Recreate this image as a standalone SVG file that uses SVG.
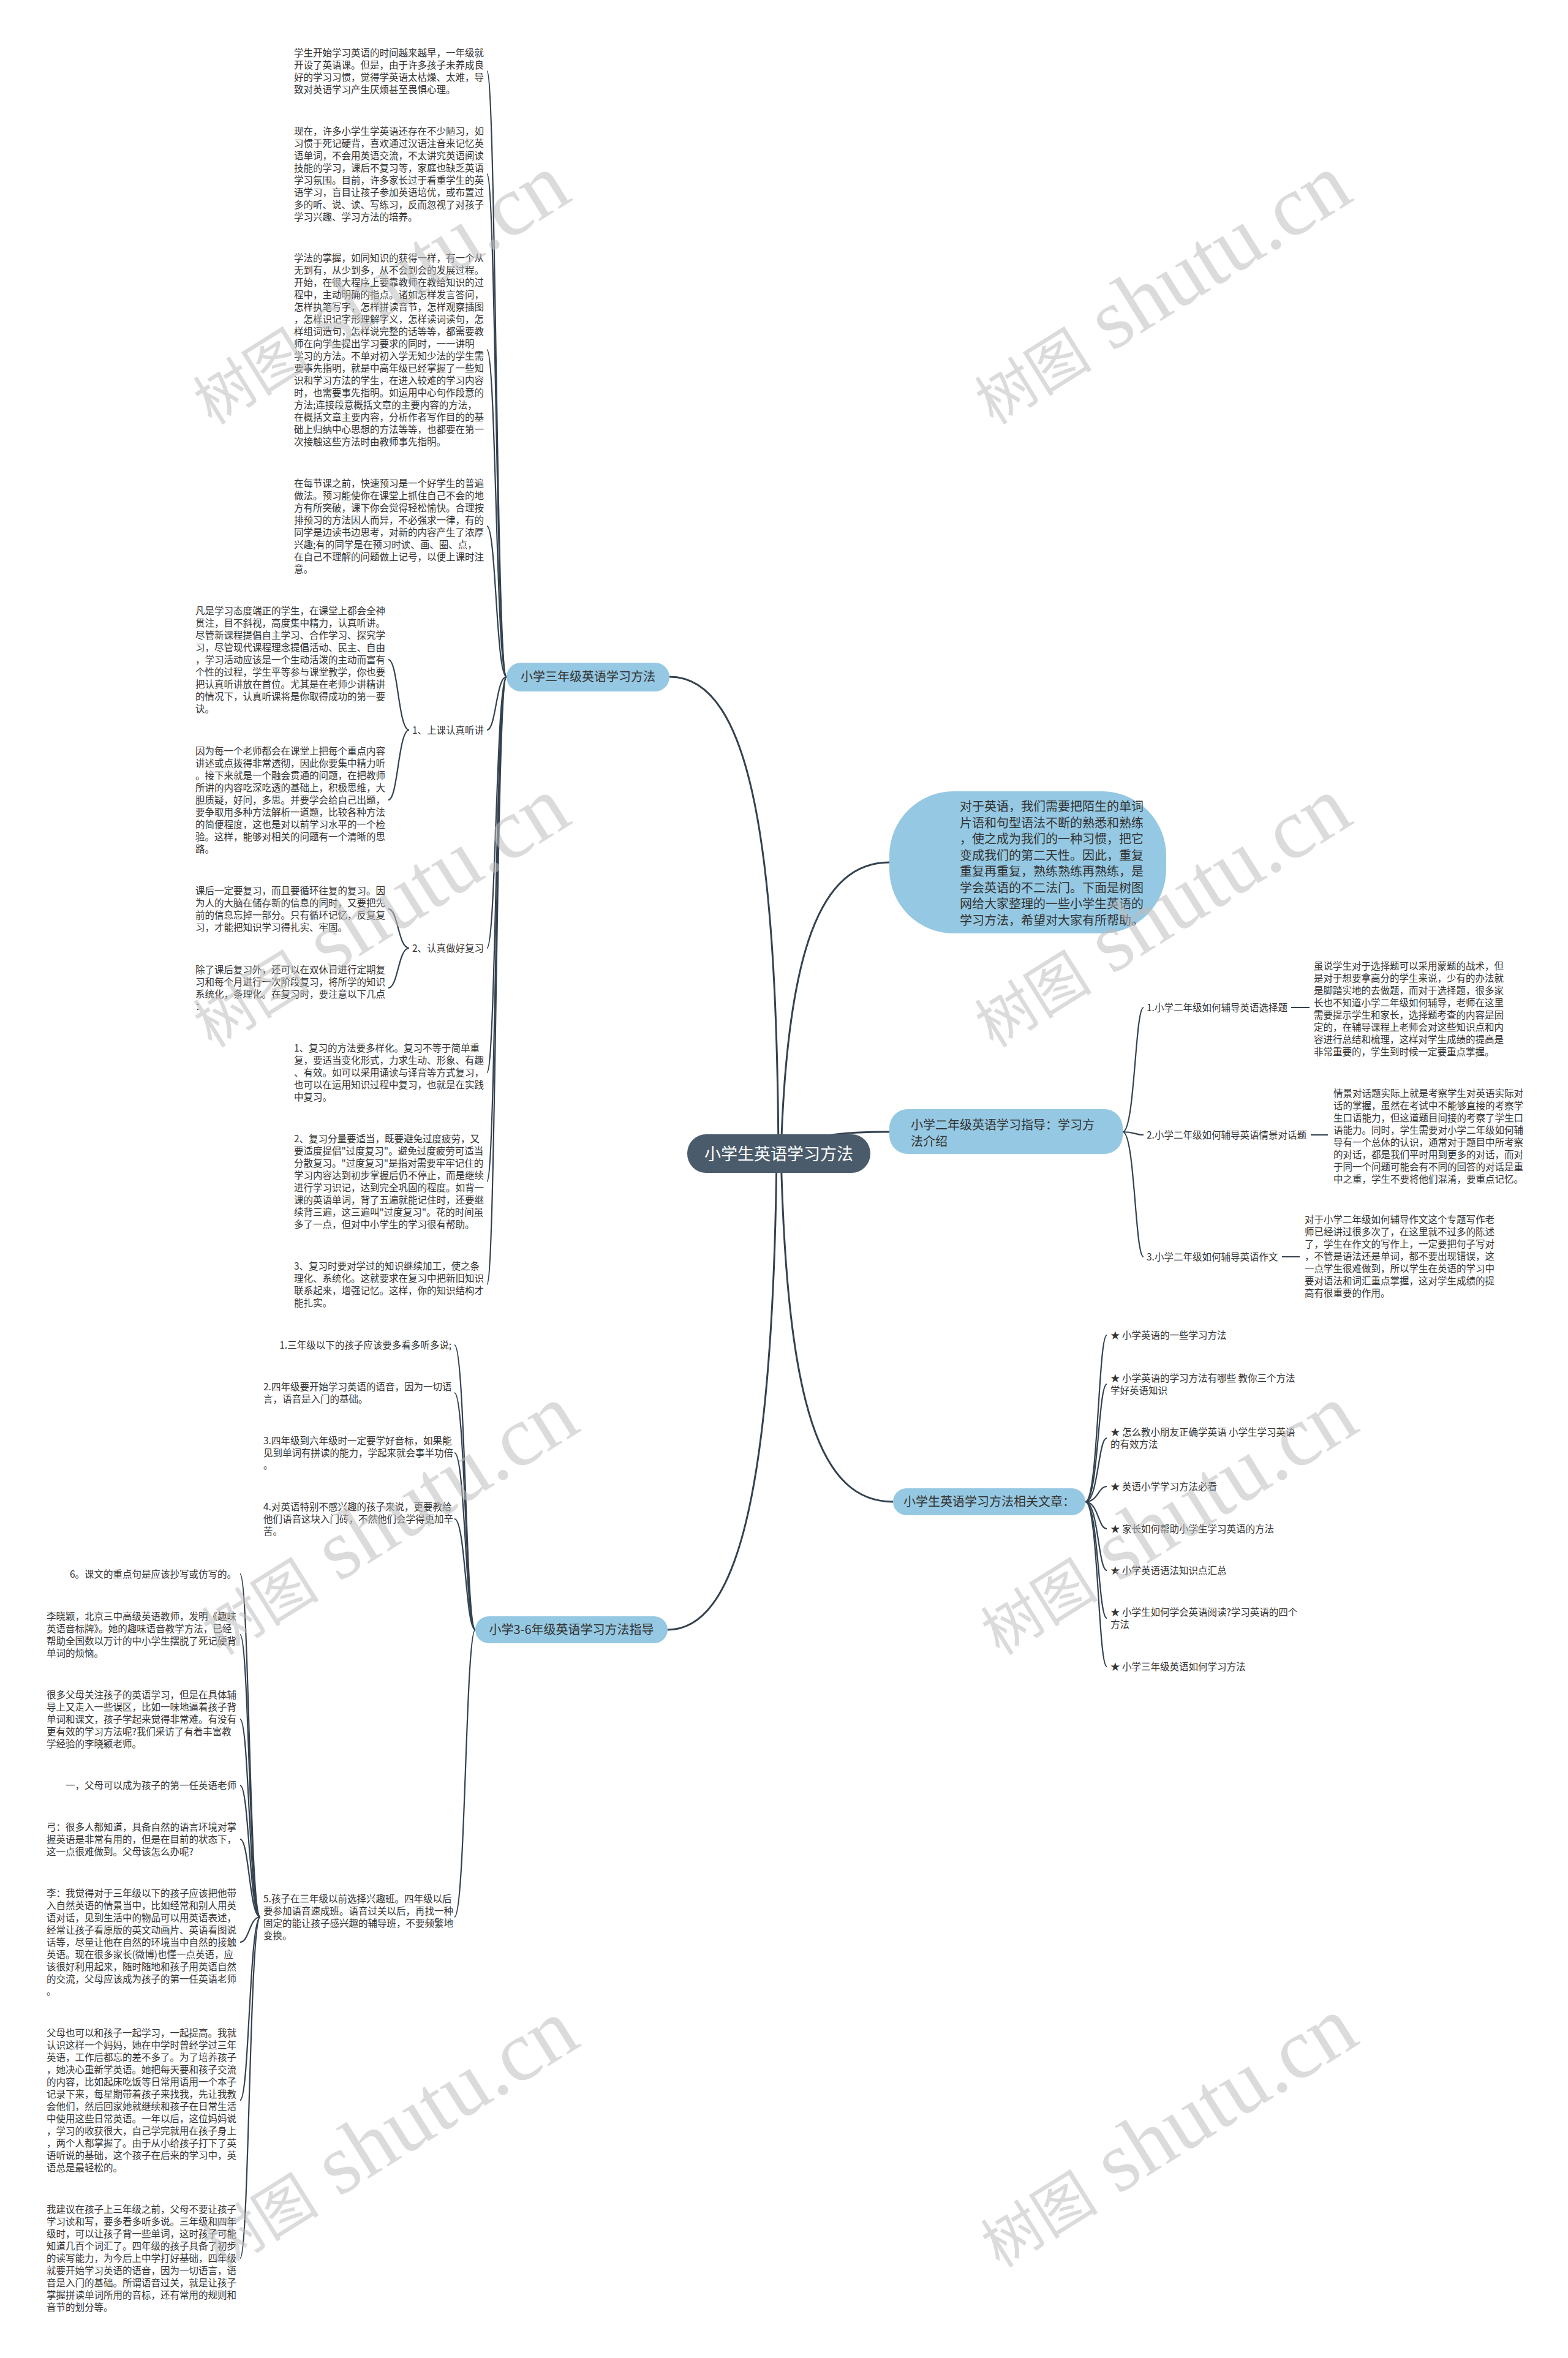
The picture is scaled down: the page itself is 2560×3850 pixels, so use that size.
<svg xmlns="http://www.w3.org/2000/svg" width="2560" height="3850" viewBox="0 0 2560 3850">
<style>
.t{font-family:"Noto Sans CJK SC","Noto Sans",sans-serif;font-size:15.5px;fill:#333}
.n{font-family:"Noto Sans CJK SC","Noto Sans",sans-serif;font-size:20px;fill:#333}
.r{font-family:"Noto Sans CJK SC","Noto Sans",sans-serif;font-size:27px;fill:#fff}
.c{fill:none;stroke:#34424f;stroke-width:2.2}
.m{fill:none;stroke:#34424f;stroke-width:3}
.bub{fill:#95c8e2}
.wm{font-family:"Liberation Serif","Noto Sans CJK SC",serif;fill:#bdbdbd;fill-opacity:.55}
</style>
<rect width="2560" height="3850" fill="#fff"/>
<g id="connectors">
<path class="m" d="M1271,1884 C1268,1400 1230,1105 1093,1105"/>
<path class="m" d="M1275,1884 C1285,1550 1340,1408 1452,1408"/>
<path class="m" d="M1271,1884 C1320,1850 1390,1848 1452,1848"/>
<path class="m" d="M1275,1884 C1285,2300 1340,2452 1458,2452"/>
<path class="m" d="M1268,1884 C1262,2450 1200,2661 1090,2661"/>
<path class="c" d="M827,1105 C810,1105 810,116 795,116"/>
<path class="c" d="M827,1105 C810,1105 810,284 795,284"/>
<path class="c" d="M827,1105 C810,1105 810,571 795,571"/>
<path class="c" d="M827,1105 C810,1105 810,859 795,859"/>
<path class="c" d="M827,1105 C810,1105 810,1192 795,1192"/>
<path class="c" d="M827,1105 C810,1105 810,1548 795,1548"/>
<path class="c" d="M827,1105 C810,1105 810,1751 795,1751"/>
<path class="c" d="M827,1105 C810,1105 810,1929 795,1929"/>
<path class="c" d="M827,1105 C810,1105 810,2097 795,2097"/>
<path class="c" d="M668,1192 C650,1192 650,1077 634,1077"/>
<path class="c" d="M668,1192 C650,1192 650,1306 634,1306"/>
<path class="c" d="M668,1548 C650,1548 650,1484 634,1484"/>
<path class="c" d="M668,1548 C650,1548 650,1613 634,1613"/>
<path class="c" d="M776,2661 C760,2661 760,2196 742,2196"/>
<path class="c" d="M776,2661 C760,2661 760,2274 742,2274"/>
<path class="c" d="M776,2661 C760,2661 760,2372 742,2372"/>
<path class="c" d="M776,2661 C760,2661 760,2480 742,2480"/>
<path class="c" d="M776,2661 C760,2661 760,3130 742,3130"/>
<path class="c" d="M425,3130 C407,3130 407,2570 392,2570"/>
<path class="c" d="M425,3130 C407,3130 407,2669 392,2669"/>
<path class="c" d="M425,3130 C407,3130 407,2807 392,2807"/>
<path class="c" d="M425,3130 C407,3130 407,2915 392,2915"/>
<path class="c" d="M425,3130 C407,3130 407,3003 392,3003"/>
<path class="c" d="M425,3130 C407,3130 407,3171 392,3171"/>
<path class="c" d="M425,3130 C407,3130 407,3429 392,3429"/>
<path class="c" d="M425,3130 C407,3130 407,3687 392,3687"/>
<path class="c" d="M1833,1848 C1853,1848 1853,1645 1867,1645"/>
<path class="c" d="M1833,1848 C1853,1848 1853,1853 1867,1853"/>
<path class="c" d="M1833,1848 C1853,1848 1853,2052 1867,2052"/>
<path class="c" d="M2108,1645 L2138,1645 M2140,1853 L2168,1853 M2093,2052 L2122,2052"/>
<path class="c" d="M1772,2452 C1793,2452 1793,2180 1807,2180"/>
<path class="c" d="M1772,2452 C1793,2452 1793,2260 1807,2260"/>
<path class="c" d="M1772,2452 C1793,2452 1793,2348 1807,2348"/>
<path class="c" d="M1772,2452 C1793,2452 1793,2427 1807,2427"/>
<path class="c" d="M1772,2452 C1793,2452 1793,2496 1807,2496"/>
<path class="c" d="M1772,2452 C1793,2452 1793,2564 1807,2564"/>
<path class="c" d="M1772,2452 C1793,2452 1793,2642 1807,2642"/>
<path class="c" d="M1772,2452 C1793,2452 1793,2721 1807,2721"/>
</g>
<g id="root"><rect x="1122" y="1852" width="299" height="63" rx="31" fill="#4a5b6b"/><text class="r" x="1271.5" y="1894" text-anchor="middle">小学生英语学习方法</text></g>
<g id="intro"><rect class="bub" x="1452" y="1292" width="452" height="232" rx="105"/>
<text class="n" x="1567" y="1324"><tspan x="1567">对于英语，我们需要把陌生的单词</tspan><tspan x="1567" dy="26.5">片语和句型语法不断的熟悉和熟练</tspan><tspan x="1567" dy="26.5">，使之成为我们的一种习惯，把它</tspan><tspan x="1567" dy="26.5">变成我们的第二天性。因此，重复</tspan><tspan x="1567" dy="26.5">重复再重复，熟练熟练再熟练，是</tspan><tspan x="1567" dy="26.5">学会英语的不二法门。下面是树图</tspan><tspan x="1567" dy="26.5">网给大家整理的一些小学生英语的</tspan><tspan x="1567" dy="26.5">学习方法，希望对大家有所帮助。</tspan></text></g>
<g id="g3"><rect class="bub" x="827" y="1082" width="266" height="47" rx="23.5"/><text class="n" x="960" y="1112" text-anchor="middle">小学三年级英语学习方法</text></g>
<g id="g2"><rect class="bub" x="1452" y="1811" width="381" height="73" rx="30"/><text class="n" x="1487" y="1844"><tspan x="1487">小学二年级英语学习指导：学习方</tspan><tspan x="1487" dy="27">法介绍</tspan></text></g>
<g id="g36"><rect class="bub" x="776" y="2639" width="314" height="44" rx="22"/><text class="n" x="933" y="2668" text-anchor="middle">小学3-6年级英语学习方法指导</text></g>
<g id="grel"><rect class="bub" x="1458" y="2430" width="314" height="44" rx="22"/><text class="n" x="1615" y="2459" text-anchor="middle">小学生英语学习方法相关文章：</text></g>
<g id="a1"><text class="t" x="480" y="92"><tspan x="480">学生开始学习英语的时间越来越早，一年级就</tspan><tspan x="480" dy="20">开设了英语课。但是，由于许多孩子未养成良</tspan><tspan x="480" dy="20">好的学习习惯，觉得学英语太枯燥、太难，导</tspan><tspan x="480" dy="20">致对英语学习产生厌烦甚至畏惧心理。</tspan></text></g>
<g id="a2"><text class="t" x="480" y="220"><tspan x="480">现在，许多小学生学英语还存在不少陋习，如</tspan><tspan x="480" dy="20">习惯于死记硬背，喜欢通过汉语注音来记忆英</tspan><tspan x="480" dy="20">语单词，不会用英语交流，不太讲究英语阅读</tspan><tspan x="480" dy="20">技能的学习，课后不复习等，家庭也缺乏英语</tspan><tspan x="480" dy="20">学习氛围。目前，许多家长过于看重学生的英</tspan><tspan x="480" dy="20">语学习，盲目让孩子参加英语培优，或布置过</tspan><tspan x="480" dy="20">多的听、说、读、写练习，反而忽视了对孩子</tspan><tspan x="480" dy="20">学习兴趣、学习方法的培养。</tspan></text></g>
<g id="a3"><text class="t" x="480" y="427"><tspan x="480">学法的掌握，如同知识的获得一样，有一个从</tspan><tspan x="480" dy="20">无到有，从少到多，从不会到会的发展过程。</tspan><tspan x="480" dy="20">开始，在很大程序上要靠教师在教给知识的过</tspan><tspan x="480" dy="20">程中，主动明确的指点。诸如怎样发言答问，</tspan><tspan x="480" dy="20">怎样执笔写字，怎样拼读音节，怎样观察插图</tspan><tspan x="480" dy="20">，怎样识记字形理解字义，怎样读词读句，怎</tspan><tspan x="480" dy="20">样组词造句，怎样说完整的话等等，都需要教</tspan><tspan x="480" dy="20">师在向学生提出学习要求的同时，一一讲明</tspan><tspan x="480" dy="20">学习的方法。不单对初入学无知少法的学生需</tspan><tspan x="480" dy="20">要事先指明，就是中高年级已经掌握了一些知</tspan><tspan x="480" dy="20">识和学习方法的学生，在进入较难的学习内容</tspan><tspan x="480" dy="20">时，也需要事先指明。如运用中心句作段意的</tspan><tspan x="480" dy="20">方法;连接段意概括文章的主要内容的方法，</tspan><tspan x="480" dy="20">在概括文章主要内容，分析作者写作目的的基</tspan><tspan x="480" dy="20">础上归纳中心思想的方法等等，也都要在第一</tspan><tspan x="480" dy="20">次接触这些方法时由教师事先指明。</tspan></text></g>
<g id="a4"><text class="t" x="480" y="795"><tspan x="480">在每节课之前，快速预习是一个好学生的普遍</tspan><tspan x="480" dy="20">做法。预习能使你在课堂上抓住自己不会的地</tspan><tspan x="480" dy="20">方有所突破，课下你会觉得轻松愉快。合理按</tspan><tspan x="480" dy="20">排预习的方法因人而异，不必强求一律，有的</tspan><tspan x="480" dy="20">同学是边读书边思考，对新的内容产生了浓厚</tspan><tspan x="480" dy="20">兴趣;有的同学是在预习时读、画、圈、点，</tspan><tspan x="480" dy="20">在自己不理解的问题做上记号，以便上课时注</tspan><tspan x="480" dy="20">意。</tspan></text></g>
<g id="l1"><text class="t" x="790" y="1198" text-anchor="end">1、上课认真听讲</text></g>
<g id="l1a"><text class="t" x="319" y="1003"><tspan x="319">凡是学习态度端正的学生，在课堂上都会全神</tspan><tspan x="319" dy="20">贯注，目不斜视，高度集中精力，认真听讲。</tspan><tspan x="319" dy="20">尽管新课程提倡自主学习、合作学习、探究学</tspan><tspan x="319" dy="20">习，尽管现代课程理念提倡活动、民主、自由</tspan><tspan x="319" dy="20">，学习活动应该是一个生动活泼的主动而富有</tspan><tspan x="319" dy="20">个性的过程，学生平等参与课堂教学，你也要</tspan><tspan x="319" dy="20">把认真听讲放在首位。尤其是在老师少讲精讲</tspan><tspan x="319" dy="20">的情况下，认真听课将是你取得成功的第一要</tspan><tspan x="319" dy="20">诀。</tspan></text></g>
<g id="l1b"><text class="t" x="319" y="1232"><tspan x="319">因为每一个老师都会在课堂上把每个重点内容</tspan><tspan x="319" dy="20">讲述或点拨得非常透彻，因此你要集中精力听</tspan><tspan x="319" dy="20">。接下来就是一个融会贯通的问题，在把教师</tspan><tspan x="319" dy="20">所讲的内容吃深吃透的基础上，积极思维，大</tspan><tspan x="319" dy="20">胆质疑，好问，多思。并要学会给自己出题，</tspan><tspan x="319" dy="20">要争取用多种方法解析一道题，比较各种方法</tspan><tspan x="319" dy="20">的简便程度，这也是对以前学习水平的一个检</tspan><tspan x="319" dy="20">验。这样，能够对相关的问题有一个清晰的思</tspan><tspan x="319" dy="20">路。</tspan></text></g>
<g id="l2"><text class="t" x="790" y="1554" text-anchor="end">2、认真做好复习</text></g>
<g id="l2a"><text class="t" x="319" y="1460"><tspan x="319">课后一定要复习，而且要循环往复的复习。因</tspan><tspan x="319" dy="20">为人的大脑在储存新的信息的同时，又要把先</tspan><tspan x="319" dy="20">前的信息忘掉一部分。只有循环记忆，反复复</tspan><tspan x="319" dy="20">习，才能把知识学习得扎实、牢固。</tspan></text></g>
<g id="l2b"><text class="t" x="319" y="1589"><tspan x="319">除了课后复习外，还可以在双休日进行定期复</tspan><tspan x="319" dy="20">习和每个月进行一次阶段复习，将所学的知识</tspan><tspan x="319" dy="20">系统化，条理化。在复习时，要注意以下几点</tspan><tspan x="319" dy="20">：</tspan></text></g>
<g id="a5"><text class="t" x="480" y="1717"><tspan x="480">1、复习的方法要多样化。复习不等于简单重</tspan><tspan x="480" dy="20">复，要适当变化形式，力求生动、形象、有趣</tspan><tspan x="480" dy="20">、有效。如可以采用诵读与译背等方式复习，</tspan><tspan x="480" dy="20">也可以在运用知识过程中复习，也就是在实践</tspan><tspan x="480" dy="20">中复习。</tspan></text></g>
<g id="a6"><text class="t" x="480" y="1865"><tspan x="480">2、复习分量要适当，既要避免过度疲劳，又</tspan><tspan x="480" dy="20">要适度提倡"过度复习"。避免过度疲劳可适当</tspan><tspan x="480" dy="20">分散复习。"过度复习"是指对需要牢牢记住的</tspan><tspan x="480" dy="20">学习内容达到初步掌握后仍不停止，而是继续</tspan><tspan x="480" dy="20">进行学习识记，达到完全巩固的程度。如背一</tspan><tspan x="480" dy="20">课的英语单词，背了五遍就能记住时，还要继</tspan><tspan x="480" dy="20">续背三遍，这三遍叫"过度复习"。花的时间虽</tspan><tspan x="480" dy="20">多了一点，但对中小学生的学习很有帮助。</tspan></text></g>
<g id="a7"><text class="t" x="480" y="2073"><tspan x="480">3、复习时要对学过的知识继续加工，使之条</tspan><tspan x="480" dy="20">理化、系统化。这就要求在复习中把新旧知识</tspan><tspan x="480" dy="20">联系起来，增强记忆。这样，你的知识结构才</tspan><tspan x="480" dy="20">能扎实。</tspan></text></g>
<g id="b1"><text class="t" x="737" y="2202" text-anchor="end">1.三年级以下的孩子应该要多看多听多说;</text></g>
<g id="b2"><text class="t" x="430" y="2270"><tspan x="430">2.四年级要开始学习英语的语音，因为一切语</tspan><tspan x="430" dy="20">言，语音是入门的基础。</tspan></text></g>
<g id="b3"><text class="t" x="430" y="2358"><tspan x="430">3.四年级到六年级时一定要学好音标，如果能</tspan><tspan x="430" dy="20">见到单词有拼读的能力，学起来就会事半功倍</tspan><tspan x="430" dy="20">。</tspan></text></g>
<g id="b4"><text class="t" x="430" y="2466"><tspan x="430">4.对英语特别不感兴趣的孩子来说，更要教给</tspan><tspan x="430" dy="20">他们语音这块入门砖，不然他们会学得更加辛</tspan><tspan x="430" dy="20">苦。</tspan></text></g>
<g id="b5"><text class="t" x="430" y="3106"><tspan x="430">5.孩子在三年级以前选择兴趣班。四年级以后</tspan><tspan x="430" dy="20">要参加语音速成班。语音过关以后，再找一种</tspan><tspan x="430" dy="20">固定的能让孩子感兴趣的辅导班，不要频繁地</tspan><tspan x="430" dy="20">变换。</tspan></text></g>
<g id="c1"><text class="t" x="386" y="2576" text-anchor="end">6。课文的重点句是应该抄写或仿写的。</text></g>
<g id="c2"><text class="t" x="76" y="2645"><tspan x="76">李晓颖，北京三中高级英语教师，发明《趣味</tspan><tspan x="76" dy="20">英语音标牌》。她的趣味语音教学方法，已经</tspan><tspan x="76" dy="20">帮助全国数以万计的中小学生摆脱了死记硬背</tspan><tspan x="76" dy="20">单词的烦恼。</tspan></text></g>
<g id="c3"><text class="t" x="76" y="2773"><tspan x="76">很多父母关注孩子的英语学习，但是在具体辅</tspan><tspan x="76" dy="20">导上又走入一些误区，比如一味地逼着孩子背</tspan><tspan x="76" dy="20">单词和课文，孩子学起来觉得非常难。有没有</tspan><tspan x="76" dy="20">更有效的学习方法呢?我们采访了有着丰富教</tspan><tspan x="76" dy="20">学经验的李晓颖老师。</tspan></text></g>
<g id="c4"><text class="t" x="386" y="2921" text-anchor="end">一，父母可以成为孩子的第一任英语老师</text></g>
<g id="c5"><text class="t" x="76" y="2989"><tspan x="76">弓：很多人都知道，具备自然的语言环境对掌</tspan><tspan x="76" dy="20">握英语是非常有用的，但是在目前的状态下，</tspan><tspan x="76" dy="20">这一点很难做到。父母该怎么办呢?</tspan></text></g>
<g id="c6"><text class="t" x="76" y="3097"><tspan x="76">李：我觉得对于三年级以下的孩子应该把他带</tspan><tspan x="76" dy="20">入自然英语的情景当中，比如经常和别人用英</tspan><tspan x="76" dy="20">语对话，见到生活中的物品可以用英语表述，</tspan><tspan x="76" dy="20">经常让孩子看原版的英文动画片、英语看图说</tspan><tspan x="76" dy="20">话等，尽量让他在自然的环境当中自然的接触</tspan><tspan x="76" dy="20">英语。现在很多家长(微博)也懂一点英语，应</tspan><tspan x="76" dy="20">该很好利用起来，随时随地和孩子用英语自然</tspan><tspan x="76" dy="20">的交流，父母应该成为孩子的第一任英语老师</tspan><tspan x="76" dy="20">。</tspan></text></g>
<g id="c7"><text class="t" x="76" y="3325"><tspan x="76">父母也可以和孩子一起学习，一起提高。我就</tspan><tspan x="76" dy="20">认识这样一个妈妈，她在中学时曾经学过三年</tspan><tspan x="76" dy="20">英语，工作后都忘的差不多了。为了培养孩子</tspan><tspan x="76" dy="20">，她决心重新学英语。她把每天要和孩子交流</tspan><tspan x="76" dy="20">的内容，比如起床吃饭等日常用语用一个本子</tspan><tspan x="76" dy="20">记录下来，每星期带着孩子来找我，先让我教</tspan><tspan x="76" dy="20">会他们，然后回家她就继续和孩子在日常生活</tspan><tspan x="76" dy="20">中使用这些日常英语。一年以后，这位妈妈说</tspan><tspan x="76" dy="20">，学习的收获很大，自己学完就用在孩子身上</tspan><tspan x="76" dy="20">，两个人都掌握了。由于从小给孩子打下了英</tspan><tspan x="76" dy="20">语听说的基础，这个孩子在后来的学习中，英</tspan><tspan x="76" dy="20">语总是最轻松的。</tspan></text></g>
<g id="c8"><text class="t" x="76" y="3613"><tspan x="76">我建议在孩子上三年级之前，父母不要让孩子</tspan><tspan x="76" dy="20">学习读和写，要多看多听多说。三年级和四年</tspan><tspan x="76" dy="20">级时，可以让孩子背一些单词，这时孩子可能</tspan><tspan x="76" dy="20">知道几百个词汇了。四年级的孩子具备了初步</tspan><tspan x="76" dy="20">的读写能力，为今后上中学打好基础，四年级</tspan><tspan x="76" dy="20">就要开始学习英语的语音，因为一切语言，语</tspan><tspan x="76" dy="20">音是入门的基础。所谓语音过关，就是让孩子</tspan><tspan x="76" dy="20">掌握拼读单词所用的音标，还有常用的规则和</tspan><tspan x="76" dy="20">音节的划分等。</tspan></text></g>
<g id="d1"><text class="t" x="1872" y="1651">1.小学二年级如何辅导英语选择题</text></g>
<g id="d2"><text class="t" x="1872" y="1859">2.小学二年级如何辅导英语情景对话题</text></g>
<g id="d3"><text class="t" x="1872" y="2058">3.小学二年级如何辅导英语作文</text></g>
<g id="e1"><text class="t" x="2145" y="1583"><tspan x="2145">虽说学生对于选择题可以采用蒙题的战术，但</tspan><tspan x="2145" dy="20">是对于想要拿高分的学生来说，少有的办法就</tspan><tspan x="2145" dy="20">是脚踏实地的去做题，而对于选择题，很多家</tspan><tspan x="2145" dy="20">长也不知道小学二年级如何辅导，老师在这里</tspan><tspan x="2145" dy="20">需要提示学生和家长，选择题考查的内容是固</tspan><tspan x="2145" dy="20">定的，在辅导课程上老师会对这些知识点和内</tspan><tspan x="2145" dy="20">容进行总结和梳理，这样对学生成绩的提高是</tspan><tspan x="2145" dy="20">非常重要的，学生到时候一定要重点掌握。</tspan></text></g>
<g id="e2"><text class="t" x="2177" y="1791"><tspan x="2177">情景对话题实际上就是考察学生对英语实际对</tspan><tspan x="2177" dy="20">话的掌握，虽然在考试中不能够直接的考察学</tspan><tspan x="2177" dy="20">生口语能力，但这道题目间接的考察了学生口</tspan><tspan x="2177" dy="20">语能力。同时，学生需要对小学二年级如何辅</tspan><tspan x="2177" dy="20">导有一个总体的认识，通常对于题目中所考察</tspan><tspan x="2177" dy="20">的对话，都是我们平时用到更多的对话，而对</tspan><tspan x="2177" dy="20">于同一个问题可能会有不同的回答的对话是重</tspan><tspan x="2177" dy="20">中之重，学生不要将他们混淆，要重点记忆。</tspan></text></g>
<g id="e3"><text class="t" x="2130" y="1997"><tspan x="2130">对于小学二年级如何辅导作文这个专题写作老</tspan><tspan x="2130" dy="20">师已经讲过很多次了，在这里就不过多的陈述</tspan><tspan x="2130" dy="20">了，学生在作文的写作上，一定要把句子写对</tspan><tspan x="2130" dy="20">，不管是语法还是单词，都不要出现错误，这</tspan><tspan x="2130" dy="20">一点学生很难做到，所以学生在英语的学习中</tspan><tspan x="2130" dy="20">要对语法和词汇重点掌握，这对学生成绩的提</tspan><tspan x="2130" dy="20">高有很重要的作用。</tspan></text></g>
<g id="f1"><text class="t" x="1813" y="2186">★ 小学英语的一些学习方法</text></g>
<g id="f2"><text class="t" x="1813" y="2256"><tspan x="1813">★ 小学英语的学习方法有哪些 教你三个方法</tspan><tspan x="1813" dy="20">学好英语知识</tspan></text></g>
<g id="f3"><text class="t" x="1813" y="2344"><tspan x="1813">★ 怎么教小朋友正确学英语 小学生学习英语</tspan><tspan x="1813" dy="20">的有效方法</tspan></text></g>
<g id="f4"><text class="t" x="1813" y="2433">★ 英语小学学习方法必看</text></g>
<g id="f5"><text class="t" x="1813" y="2502">★ 家长如何帮助小学生学习英语的方法</text></g>
<g id="f6"><text class="t" x="1813" y="2570">★ 小学英语语法知识点汇总</text></g>
<g id="f7"><text class="t" x="1813" y="2638"><tspan x="1813">★ 小学生如何学会英语阅读?学习英语的四个</tspan><tspan x="1813" dy="20">方法</tspan></text></g>
<g id="f8"><text class="t" x="1813" y="2727">★ 小学三年级英语如何学习方法</text></g>
<g id="watermarks">
<text class="wm" transform="translate(346,695) rotate(-32)"><tspan font-size="96">树图</tspan><tspan font-size="140"> shutu.cn</tspan></text>
<text class="wm" transform="translate(1622,695) rotate(-32)"><tspan font-size="96">树图</tspan><tspan font-size="140"> shutu.cn</tspan></text>
<text class="wm" transform="translate(346,1712) rotate(-32)"><tspan font-size="96">树图</tspan><tspan font-size="140"> shutu.cn</tspan></text>
<text class="wm" transform="translate(1622,1712) rotate(-32)"><tspan font-size="96">树图</tspan><tspan font-size="140"> shutu.cn</tspan></text>
<text class="wm" transform="translate(360,2704) rotate(-32)"><tspan font-size="96">树图</tspan><tspan font-size="140"> shutu.cn</tspan></text>
<text class="wm" transform="translate(1632,2704) rotate(-32)"><tspan font-size="96">树图</tspan><tspan font-size="140"> shutu.cn</tspan></text>
<text class="wm" transform="translate(360,3708) rotate(-32)"><tspan font-size="96">树图</tspan><tspan font-size="140"> shutu.cn</tspan></text>
<text class="wm" transform="translate(1632,3704) rotate(-32)"><tspan font-size="96">树图</tspan><tspan font-size="140"> shutu.cn</tspan></text>
</g>
</svg>
